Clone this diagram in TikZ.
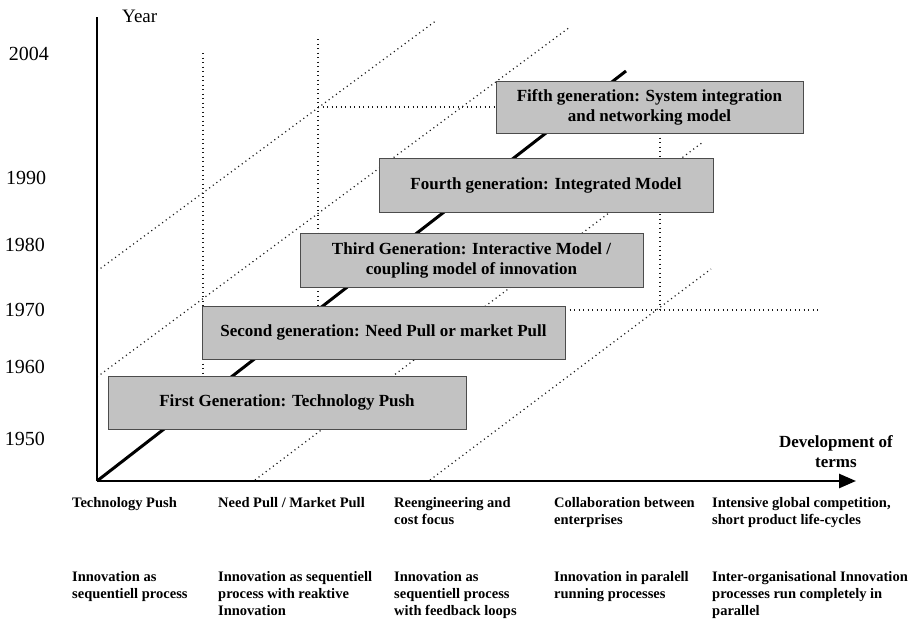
\documentclass[tikz,border=0pt]{standalone}
\usepackage{fontspec}
\setmainfont{Liberation Serif}
\usetikzlibrary{arrows.meta}
\begin{document}
\begin{tikzpicture}[x=1pt,y=-1pt,
  genbox/.style={draw=black!70, line width=0.8pt, fill=black!24, inner sep=0pt,
    align=center, font=\fontsize{17}{20}\selectfont\bfseries},
  yearlbl/.style={font=\fontsize{20}{22}\selectfont, inner sep=0pt},
  bottomtxt/.style={anchor=north west, align=left, inner sep=0pt,
    font=\fontsize{14.5}{17}\selectfont\bfseries},
  axisline/.style={line width=2.6pt},
  mainline/.style={line width=3pt},
  dotline/.style={line width=1.2pt, dash pattern=on 1.1pt off 3.4pt, black!90}
]
\useasboundingbox (0,0) rectangle (922,621);

% named coordinates
\coordinate (O) at (97,481);
\coordinate (ytop) at (97,17);
\coordinate (xend) at (856,481);
\coordinate (mtop) at (626,71);

% dotted grid lines
\coordinate (da1) at (97,271);  \coordinate (da2) at (437,20);
\coordinate (db1) at (97,377);  \coordinate (db2) at (570,27);
\coordinate (dc1) at (255,480); \coordinate (dc2) at (703,142);
\coordinate (dd1) at (430,480); \coordinate (dd2) at (711,269);
\coordinate (v1a) at (203,53);  \coordinate (v1b) at (203,376);
\coordinate (v2a) at (318,39);  \coordinate (v2b) at (318,306);
\coordinate (v3a) at (660,133); \coordinate (v3b) at (660,310);
\coordinate (h1a) at (318,107); \coordinate (h1b) at (496,107);
\coordinate (h2a) at (565,310); \coordinate (h2b) at (819,310);

\draw[dotline] (da1) -- (da2);
\draw[dotline] (db1) -- (db2);
\draw[dotline] (dc1) -- (dc2);
\draw[dotline] (dd1) -- (dd2);
\draw[dotline] (v1a) -- (v1b);
\draw[dotline] (v2a) -- (v2b);
\draw[dotline] (v3a) -- (v3b);
\draw[dotline] (h1a) -- (h1b);
\draw[dotline] (h2a) -- (h2b);

% main diagonal
\draw[mainline] (O) -- (mtop);

% generation boxes
\node[genbox, minimum width=358pt, minimum height=53pt] (g1) at (287,402.5)
  {First Generation: Technology Push};
\node[genbox, minimum width=363pt, minimum height=53pt] (g2) at (383.5,332.5)
  {Second generation: Need Pull or market Pull};
\node[genbox, minimum width=343pt, minimum height=54pt] (g3) at (471.5,260)
  {Third Generation: Interactive Model /\\coupling model of innovation};
\node[genbox, minimum width=334pt, minimum height=54pt] (g4) at (546,185)
  {Fourth generation: Integrated Model};
\node[genbox, minimum width=307pt, minimum height=52pt] (g5) at (649.5,107)
  {Fifth generation: System integration\\and networking model};

% axes
\draw[axisline] (O) -- (ytop);
\draw[axisline, -{Triangle[length=17pt,width=14pt]}] (O) -- (xend);

% axis labels
\node[anchor=west, inner sep=0pt, font=\fontsize{19}{21}\selectfont] (ylab) at (122,16) {Year};
\node[align=center, inner sep=0pt, font=\fontsize{17}{20}\selectfont\bfseries] (xlab) at (836,452)
  {Development of\\terms};

\node[yearlbl] (y2004) at (29,54) {2004};
\node[yearlbl] (y1990) at (26,178) {1990};
\node[yearlbl] (y1980) at (25,245) {1980};
\node[yearlbl] (y1970) at (25,310) {1970};
\node[yearlbl] (y1960) at (25,367) {1960};
\node[yearlbl] (y1950) at (25,439) {1950};

% bottom texts
\node[bottomtxt] (t1) at (72,497) {Technology Push};
\node[bottomtxt] (t2) at (218,497) {Need Pull / Market Pull};
\node[bottomtxt] (t3) at (394,497) {Reengineering and\\cost focus};
\node[bottomtxt] (t4) at (554,497) {Collaboration between\\enterprises};
\node[bottomtxt] (t5) at (712,497) {Intensive global competition,\\short product life-cycles};

\node[bottomtxt] (b1) at (72,571) {Innovation as\\sequentiell process};
\node[bottomtxt] (b2) at (218,571) {Innovation as sequentiell\\process with reaktive\\Innovation};
\node[bottomtxt] (b3) at (394,571) {Innovation as\\sequentiell process\\with feedback loops};
\node[bottomtxt] (b4) at (554,571) {Innovation in paralell\\running processes};
\node[bottomtxt] (b5) at (712,571) {Inter-organisational Innovation\\processes run completely in\\parallel};
\end{tikzpicture}
\end{document}
